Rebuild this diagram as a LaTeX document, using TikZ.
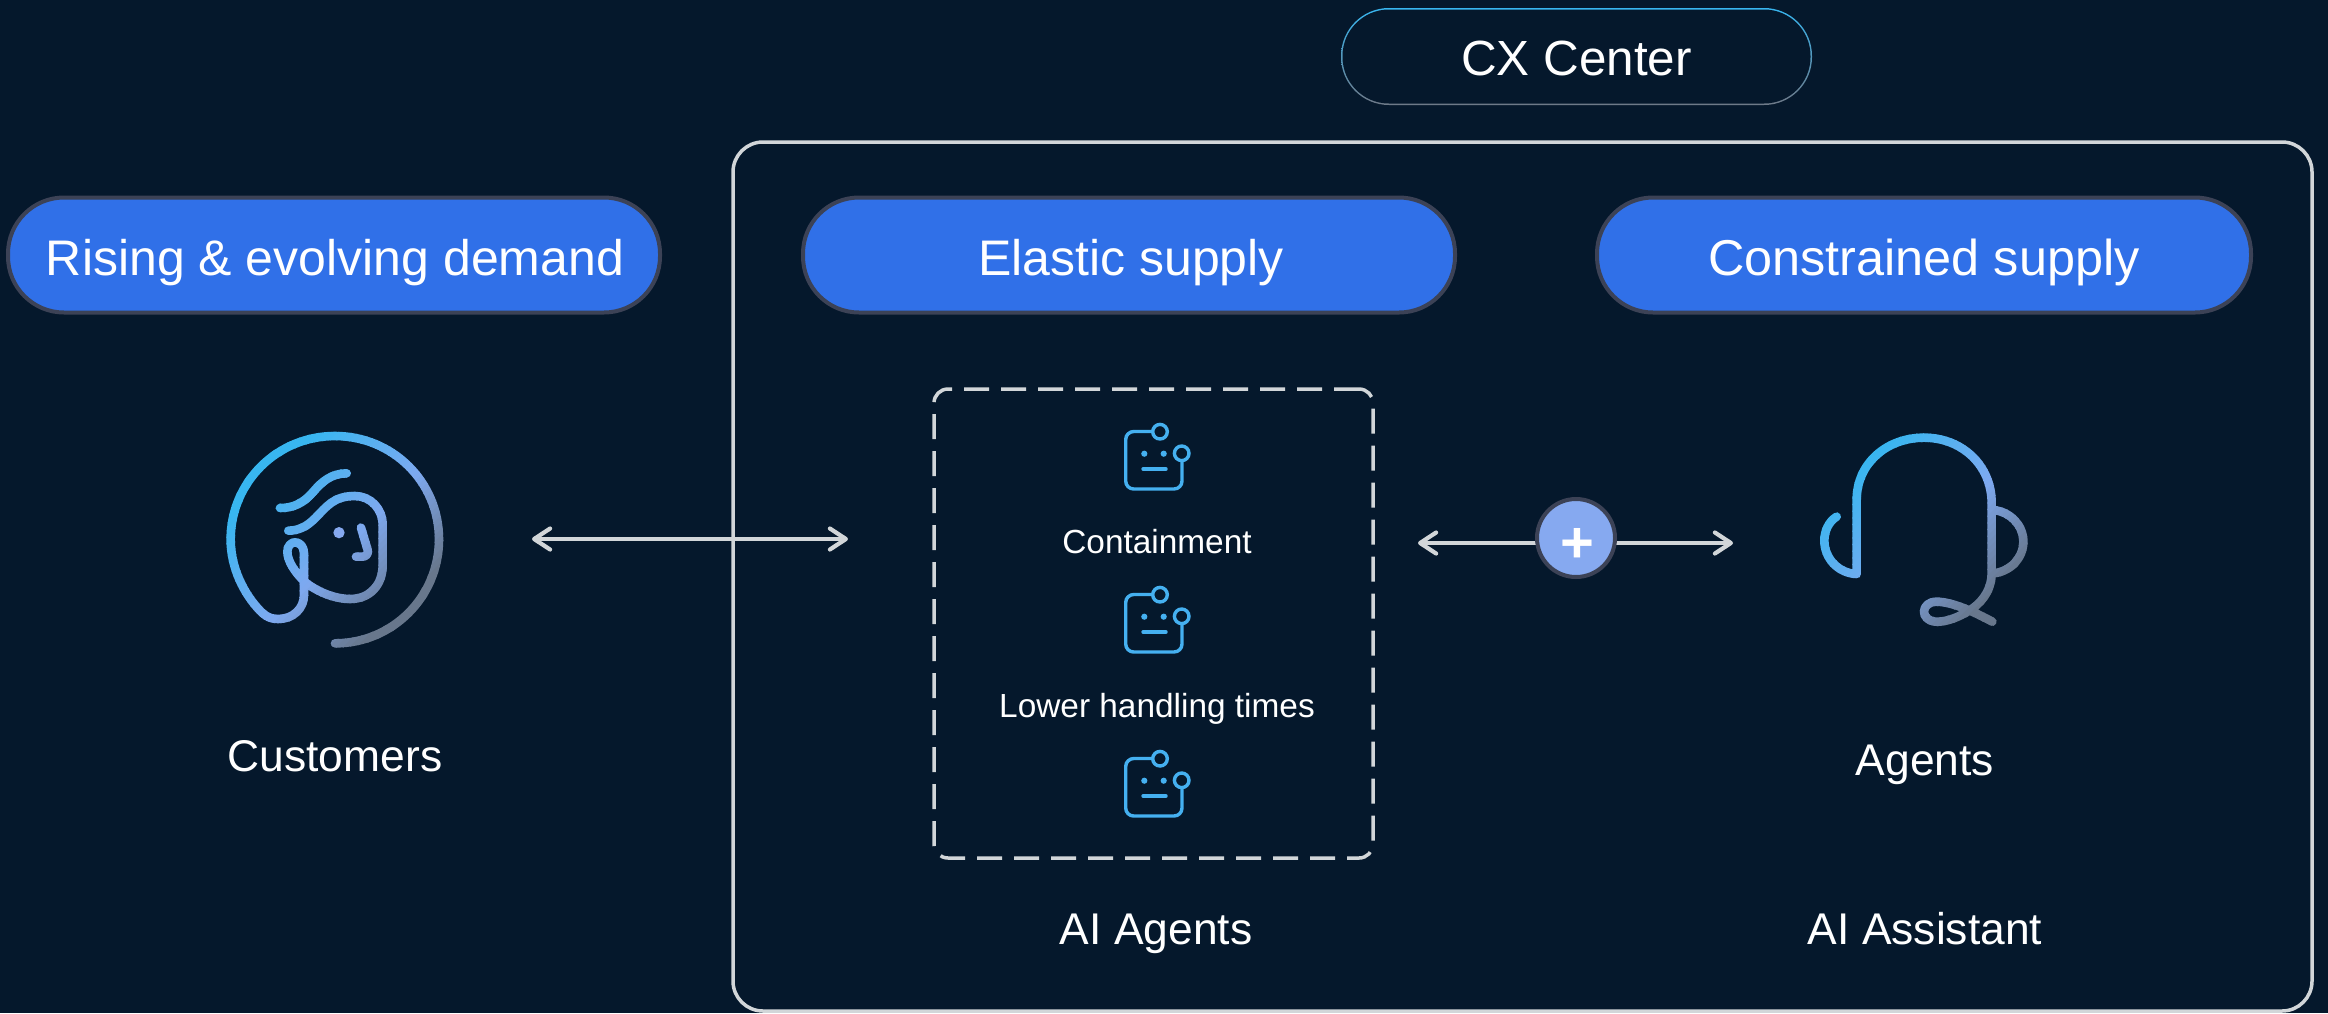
\documentclass[tikz,border=0pt]{standalone}
\usepackage{fontspec}
\setmainfont{Liberation Sans}
\usetikzlibrary{arrows.meta,calc}
\definecolor{bgc}{HTML}{05182C}
\definecolor{pillc}{HTML}{3070E8}
\definecolor{pilledge}{HTML}{3C4256}
\definecolor{linec}{HTML}{D2D6D9}
\definecolor{iconc}{HTML}{45B0F0}
\definecolor{gA}{HTML}{38B6F0}
\definecolor{gB}{HTML}{7EA9F0}
\definecolor{gC}{HTML}{68778C}
\definecolor{plusc}{HTML}{86A9F0}
\tikzset{
  pill/.style={draw=pilledge,line width=4pt,fill=pillc,rounded corners=56pt,minimum height=115pt,inner sep=0pt,text=white,text height=51pt,text depth=10pt,font=\fontsize{50}{60}\selectfont},
  lbl/.style={text=white,inner sep=0pt,text height=34pt,text depth=0pt,font=\fontsize{44.4}{52}\selectfont},
  sml/.style={text=white,inner sep=0pt,text height=25pt,text depth=0pt,font=\fontsize{33.4}{40}\selectfont},
  barb/.style={draw=linec,line width=4.2pt,{Straight Barb[length=16pt,width=21pt,line cap=round,line join=round]}-{Straight Barb[length=16pt,width=21pt,line cap=round,line join=round]}},
  botline/.style={draw=iconc,line width=3.4pt},
  bot/.pic={
    \draw[botline,rounded corners=8pt] (73,31.5) -- (45.7,31.5) -- (45.7,89) -- (102,89) -- (102,60);
    \draw[botline] (80,31.7) circle[radius=7.3];
    \draw[botline] (101.7,53.3) circle[radius=7.3];
    \fill[iconc] (64.3,53.7) circle[radius=3.1] (83.7,53.7) circle[radius=3.1];
    \draw[botline,line cap=round] (63,69) -- (86,69);
  },
  iconstroke/.style={line width=8.6pt,line cap=round,line join=round}
}
\newcommand{\gradstroke}[1]{%
  \foreach \tv in {300,320,...,1400}{%
    \pgfmathtruncatemacro{\pa}{\tv<830 ? max(0,(\tv-400)/430*100) : min(100,(\tv-830)/350*100)}%
    \ifnum\tv<830 \colorlet{bandc}{gB!\pa!gA}\else\colorlet{bandc}{gC!\pa!gB}\fi
    \begin{scope}
      \clip (\tv+1000,-1000) -- (\tv+1023,-1000) -- (\tv-1477,1500) -- (\tv-1500,1500) -- cycle;
      \draw[iconstroke,draw=bandc] #1;
    \end{scope}
  }%
}
\begin{document}
\begin{tikzpicture}[x=1pt,y=-1pt]
\useasboundingbox (0,0) rectangle (2328,1013);
\fill[bgc] (0,0) rectangle (2328,1013);
% frame
\draw[linec,line width=3.5pt,rounded corners=30pt] (733,142) rectangle (2312,1011);
% CX Center pill
\shade[top color=gA,middle color=gB!85!gC,bottom color=gC!70!gray,rounded corners=48pt] (1341,8) rectangle (1812,105);
\node[fill=bgc,rounded corners=46.5pt,minimum width=468pt,minimum height=94pt,inner sep=0pt,text=white,text height=47pt,text depth=10pt,font=\fontsize{49.4}{60}\selectfont] (cx) at (1576.5,56.5) {CX Center};
% pills
\node[pill,minimum width=652pt] (demand) at (334,255) {\hspace{2pt}Rising \& evolving demand};
\node[pill,minimum width=652pt] (elastic) at (1129,255) {\hspace{4pt}Elastic supply};
\node[pill,minimum width=654pt] (constrained) at (1924,255) {\fontsize{50.4}{60}\selectfont Constrained supply};
% customer icon
\begin{scope}[shift={(200,410)},x=0.33333pt,y=-0.33333pt]
\gradstroke{(405,700) .. controls (578,700) and (717,560) .. (717,388) .. controls (717,216) and (578,78) .. (405,78) .. controls (232,78) and (92,216) .. (92,388) .. controls (92,460) and (120,530) .. (165,585) .. controls (190,615) and (205,627) .. (235,627) .. controls (280,627) and (312,595) .. (312,555) -- (312,430) .. controls (312,410) and (300,397) .. (285,397) .. controls (272,397) and (262,410) .. (262,425) .. controls (262,455) and (290,495) .. (320,520) .. controls (360,550) and (410,567) .. (450,567) .. controls (510,567) and (548,525) .. (548,465) -- (548,345) .. controls (548,295) and (510,258) .. (465,258) .. controls (400,258) and (380,290) .. (345,325) .. controls (320,350) and (295,362) .. (265,362)
(240,294) .. controls (280,294) and (310,280) .. (340,245) .. controls (365,215) and (395,190) .. (440,190)
(483,353) -- (503,420) .. controls (506,432) and (498,440) .. (487,440) -- (468,440)}
\fill[plusc] (417,368) circle[radius=17];
\end{scope}
% headset icon
\begin{scope}[shift={(1780,410)},x=0.33333pt,y=-0.33333pt]
\gradstroke{(170,320) .. controls (145,335) and (133,365) .. (133,392) .. controls (133,445) and (175,490) .. (230,492) -- (230,270) .. controls (230,160) and (320,83) .. (432,83) .. controls (545,83) and (635,165) .. (635,280) -- (635,490) .. controls (635,530) and (615,570) .. (575,597) .. controls (530,627) and (490,637) .. (465,635) .. controls (445,633) and (432,620) .. (432,605) .. controls (432,588) and (448,575) .. (468,575) .. controls (520,575) and (590,610) .. (637,635)
(640,300) .. controls (690,305) and (730,345) .. (730,395) .. controls (730,445) and (690,485) .. (640,490)}
\end{scope}
% labels
\node[lbl] (customers) at (335,754.5) {Customers};
\node[lbl] (agents) at (1925,758) {Agents};
\node[lbl] (aiagents) at (1156,927.5) {AI Agents};
\node[lbl] (aiassist) at (1925,927.5) {AI Assistant};
% dashed box
\node[draw=linec,line width=3.5pt,rounded corners=14pt,dash pattern=on 25pt off 12pt,minimum width=439pt,minimum height=469pt,inner sep=0pt] (dbox) at (1153.5,623.5) {};
\pic at (1080,400) {bot};
\pic at (1080,563) {bot};
\pic at (1080,727) {bot};
\node[sml] (contain) at (1157,541) {Containment};
\node[sml] (lower) at (1157,705) {Lower handling times};
% arrows
\coordinate (cl) at (532,539);
\coordinate (cr) at (848,539);
\draw[barb] (cl) -- (cr);
\coordinate (rl) at (1418,543);
\coordinate (rr) at (1733,543);
\draw[barb] (rl) -- (rr);
\node[circle,draw=pilledge,line width=4pt,fill=plusc,minimum size=78pt,inner sep=0pt] (plus) at (1576,538) {};
\node[text=white,inner sep=0pt,font=\bfseries\fontsize{58}{60}\selectfont] (plustext) at (1577.5,545) {+};
\end{tikzpicture}
\end{document}
